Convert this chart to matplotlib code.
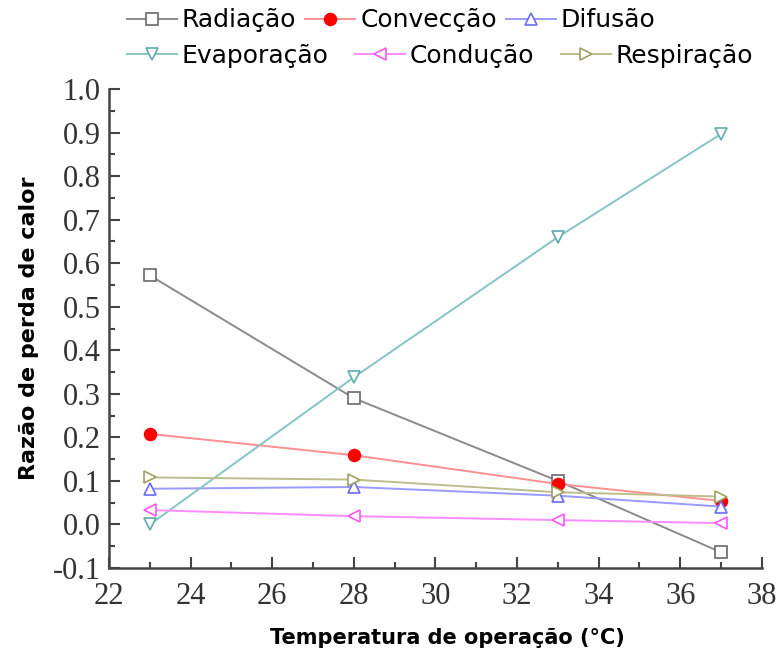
import matplotlib
matplotlib.use('Agg')
import matplotlib.pyplot as plt
from matplotlib.ticker import MultipleLocator

temps = [23, 28, 33, 37]

radiacao = [0.572, 0.290, 0.100, -0.064]
conveccao = [0.208, 0.159, 0.093, 0.054]
difusao = [0.082, 0.086, 0.066, 0.041]
evaporacao = [0.000, 0.338, 0.660, 0.897]
conducao = [0.033, 0.019, 0.010, 0.003]
respiracao = [0.108, 0.103, 0.074, 0.064]

names = ['Radiação', 'Convecção', 'Difusão', 'Evaporação', 'Condução', 'Respiração']
series = [radiacao, conveccao, difusao, evaporacao, conducao, respiracao]
line_colors = ['#8a8a8a', '#ff9090', '#9a9aff', '#86c4c4', '#ff8cff', '#bcbc8c']
edge_colors = ['#6a6a6a', '#ff0000', '#6a6aff', '#5faaaa', '#ff55ff', '#a0a060']
markers = ['s', 'o', '^', 'v', '<', '>']

fig = plt.figure(figsize=(7.79, 6.48), dpi=100)
ax = fig.add_axes([0.140, 0.1235, 0.838, 0.739])

handles = []
for vals, name, lc, ec, m in zip(series, names, line_colors, edge_colors, markers):
    face = ec if m == 'o' else 'white'
    h, = ax.plot(temps, vals, color=lc, lw=1.4, marker=m, markersize=8.5,
                 markerfacecolor=face, markeredgecolor=ec, markeredgewidth=1.2,
                 label=name)
    handles.append(h)

ax.set_xlim(22, 38)
ax.set_ylim(-0.1, 1.0)
ax.xaxis.set_major_locator(MultipleLocator(2))
ax.xaxis.set_minor_locator(MultipleLocator(1))
ax.yaxis.set_major_locator(MultipleLocator(0.1))
ax.yaxis.set_minor_locator(MultipleLocator(0.05))
ax.yaxis.set_major_formatter(matplotlib.ticker.FuncFormatter(lambda v, p: '{0:.1f}'.format(v)))

for s in ['top', 'right']:
    ax.spines[s].set_visible(False)
for s in ['left', 'bottom']:
    ax.spines[s].set_linewidth(1.8)
    ax.spines[s].set_color('#444444')

ax.tick_params(which='major', direction='in', length=8, width=1.5, color='#444444',
               labelsize=22, labelcolor='#333333', pad=6)
ax.tick_params(axis='x', which='major', pad=10)
ax.tick_params(which='minor', direction='in', length=4, width=1.5, color='#444444')
for lab in ax.get_xticklabels() + ax.get_yticklabels():
    lab.set_family('Liberation Serif')

ax.set_xlabel('Temperatura de operação (°C)', fontsize=15, fontweight='bold', labelpad=12)
ax.xaxis.label.set_x(0.518)
ax.set_ylabel('Razão de perda de calor', fontsize=16, fontweight='bold', labelpad=10)

leg_kw = dict(ncol=3, frameon=False, fontsize=18, handlelength=2.0, handletextpad=0.2,
              borderpad=0, borderaxespad=0, loc='upper left')
leg1 = fig.legend(handles=handles[:3], bbox_to_anchor=(0.163, 0.987),
                  columnspacing=0.35, **leg_kw)
leg2 = fig.legend(handles=handles[3:], bbox_to_anchor=(0.163, 0.932),
                  columnspacing=1.05, **leg_kw)

plt.savefig('out.png', dpi=100)
